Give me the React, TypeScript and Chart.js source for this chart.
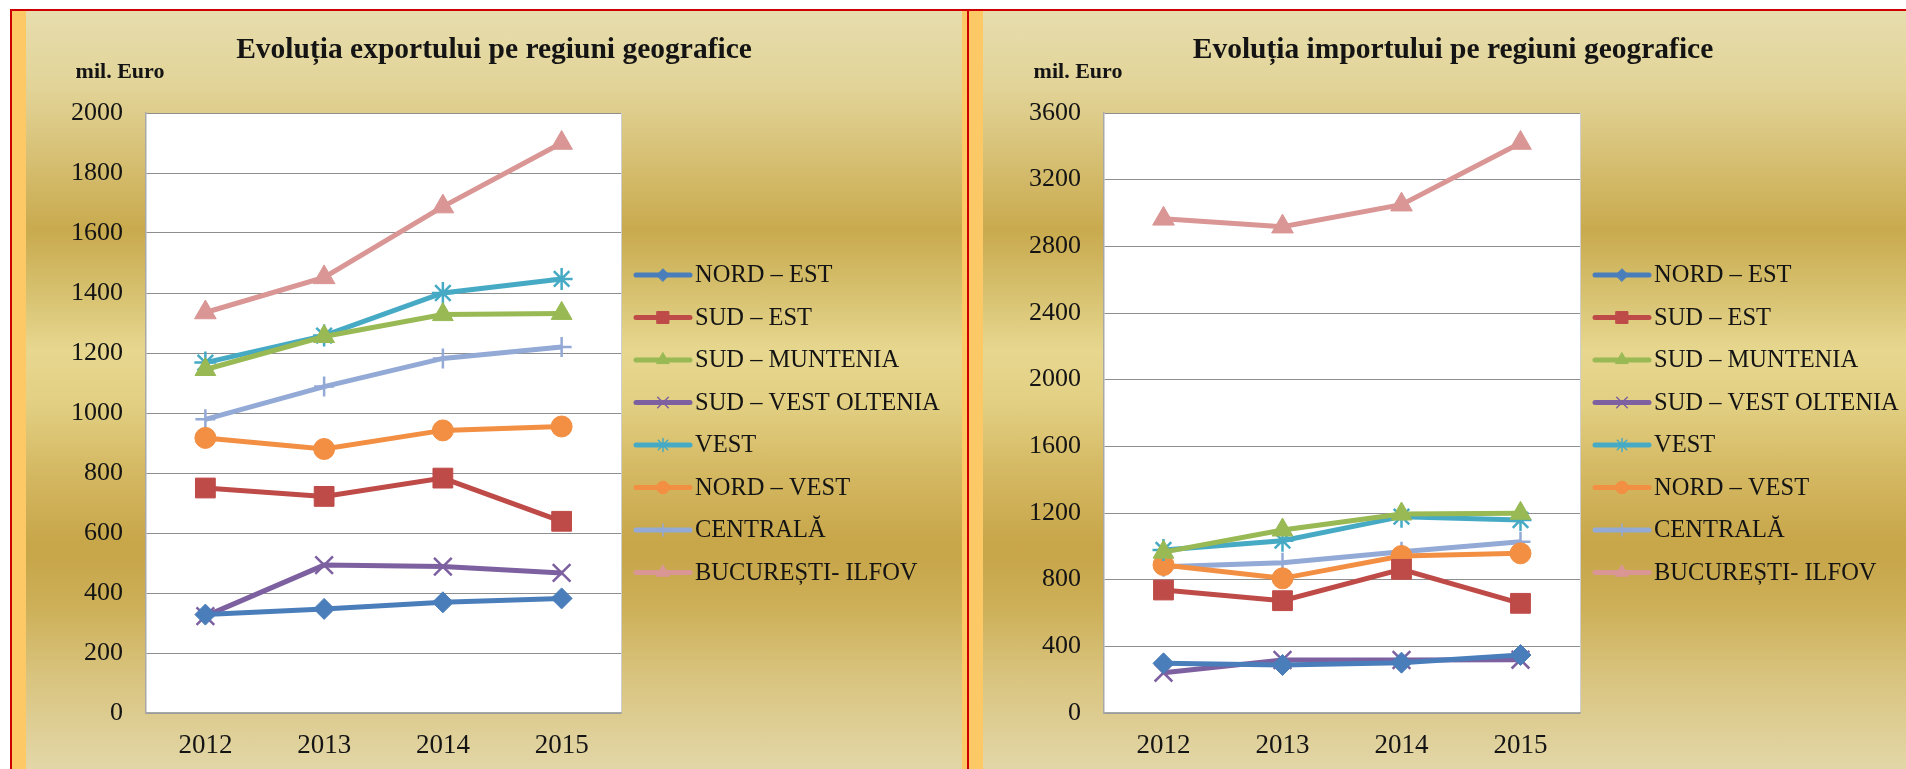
import React, { useEffect, useRef } from 'react';
import { Chart, registerables } from 'chart.js';
import { drawPoint } from 'chart.js/helpers';

Chart.register(...registerables);

// ---------- data ----------
const years = ['2012', '2013', '2014', '2015'];
const regions = [
  'NORD – EST',
  'SUD – EST',
  'SUD – MUNTENIA',
  'SUD – VEST OLTENIA',
  'VEST',
  'NORD – VEST',
  'CENTRALĂ',
  'BUCUREȘTI- ILFOV',
];

// export (mil. Euro)
const nordEstExp = [328, 347, 369, 382];
const sudEstExp = [750, 722, 783, 639];
const sudMunteniaExp = [1145, 1255, 1328, 1332];
const sudVestOlteniaExp = [323, 493, 488, 467];
const vestExp = [1168, 1258, 1400, 1447];
const nordVestExp = [917, 880, 942, 955];
const centralaExp = [979, 1088, 1182, 1220];
const bucurestiIlfovExp = [1335, 1452, 1688, 1900];

// import (mil. Euro)
const nordEstImp = [298, 288, 302, 348];
const sudEstImp = [738, 674, 862, 658];
const sudMunteniaImp = [965, 1098, 1194, 1198];
const sudVestOlteniaImp = [242, 318, 318, 320];
const vestImp = [978, 1034, 1178, 1158];
const nordVestImp = [888, 808, 942, 958];
const centralaImp = [878, 902, 968, 1028];
const bucurestiIlfovImp = [2965, 2918, 3050, 3420];

const exportTickValues = [0, 200, 400, 600, 800, 1000, 1200, 1400, 1600, 1800, 2000];
const importTickValues = [0, 400, 800, 1200, 1600, 2000, 2400, 2800, 3200, 3600];

const exportTitle = 'Evoluția exportului pe regiuni geografice';
const importTitle = 'Evoluția importului pe regiuni geografice';
const unitText = 'mil. Euro';

// ---------- styles ----------
const seriesColors = ['#4a7ebb', '#be4b48', '#98b954', '#7d60a0', '#46aac5', '#f28f43', '#93a9d6', '#d99694'];
const seriesMarkers = ['rectRot', 'rect', 'triangle', 'crossRot', 'star', 'circle', 'cross', 'triangle'];
const markerRadius = [10.5, 14, 12, 12.5, 11, 10.5, 10, 12.5];
const SERIF = '"Liberation Serif", "Times New Roman", serif';
const TEXT = '#141414';

const chartBgPlugin = {
  id: 'chartBg',
  beforeDraw(chart: any) {
    const { ctx, chartArea: a } = chart;
    ctx.save();
    ctx.fillStyle = '#ffffff';
    ctx.fillRect(a.left, a.top, a.right - a.left, a.bottom - a.top);
    ctx.strokeStyle = '#cfcfcf';
    ctx.lineWidth = 1;
    ctx.beginPath();
    ctx.moveTo(a.right + 0.5, a.top);
    ctx.lineTo(a.right + 0.5, a.bottom);
    ctx.stroke();
    ctx.restore();
  },
};

const sideLegendPlugin = {
  id: 'sideLegend',
  afterDraw(chart: any) {
    const { ctx, chartArea: a } = chart;
    ctx.save();
    chart.data.datasets.forEach((ds: any, i: number) => {
      const y = a.top + 162 + i * 42.5;
      const x0 = a.right + 15;
      const x1 = a.right + 69;
      ctx.strokeStyle = ds.borderColor;
      ctx.lineWidth = 5;
      ctx.lineCap = 'round';
      ctx.beginPath();
      ctx.moveTo(x0, y);
      ctx.lineTo(x1, y);
      ctx.stroke();
      ctx.fillStyle = ds.borderColor;
      ctx.strokeStyle = ds.borderColor;
      const cross = ['cross', 'crossRot', 'star'].includes(ds.pointStyle);
      ctx.lineWidth = cross ? 1.5 : 1;
      drawPoint(ctx, { pointStyle: ds.pointStyle, radius: ds.pointRadius * 0.6, borderWidth: ctx.lineWidth, rotation: 0 } as any, (x0 + x1) / 2, y);
      ctx.fillStyle = TEXT;
      ctx.font = `24.5px ${SERIF}`;
      ctx.textAlign = 'left';
      ctx.textBaseline = 'middle';
      ctx.fillText(ds.label, a.right + 74, y + 1);
    });
    ctx.restore();
  },
};

const headerPlugin = {
  id: 'header',
  afterDraw(chart: any) {
    const { ctx, chartArea: a, width } = chart;
    const title = chart.options.plugins.header.text;
    ctx.save();
    ctx.fillStyle = TEXT;
    ctx.textBaseline = 'alphabetic';
    ctx.textAlign = 'center';
    // title, centred on the panel
    ctx.font = `bold 29.5px ${SERIF}`;
    ctx.fillText(title, width / 2, 58);
    // unit label
    ctx.font = `bold 22px ${SERIF}`;
    ctx.fillText(unitText, a.left - 26, 77.5);
    ctx.restore();
  },
};

function buildDatasets(series: number[][]) {
  return series.map((values, i) => {
    const cross = ['cross', 'crossRot', 'star'].includes(seriesMarkers[i]);
    return {
      label: regions[i],
      data: values,
      borderColor: seriesColors[i],
      backgroundColor: seriesColors[i],
      pointBackgroundColor: seriesColors[i],
      pointBorderColor: seriesColors[i],
      pointStyle: seriesMarkers[i],
      pointRadius: markerRadius[i],
      pointBorderWidth: cross ? 2.5 : 1,
      borderWidth: 5,
      tension: 0,
      clip: false as any,
    };
  });
}

type PanelProps = {
  title: string;
  series: number[][];
  ticks: number[];
  width: number;
  axisWidth: number;
  rightPad: number;
};

function Panel({ title, series, ticks, width, axisWidth, rightPad }: PanelProps) {
  const ref = useRef<HTMLCanvasElement | null>(null);
  useEffect(() => {
    if (!ref.current) return;
    const chart = new Chart(ref.current, {
      type: 'line',
      data: { labels: years, datasets: buildDatasets(series) as any },
      plugins: [chartBgPlugin, sideLegendPlugin, headerPlugin],
      options: {
        responsive: false,
        animation: false,
        devicePixelRatio: 1,
        layout: { padding: { left: 0, right: rightPad, top: 113, bottom: 0 } },
        plugins: {
          legend: { display: false },
          tooltip: { enabled: false },
          title: { display: false },
          header: { text: title },
        } as any,
        scales: {
          x: {
            offset: true,
            grid: { display: false, drawTicks: false },
            border: { display: true, color: '#a8a8a8', width: 1.5 },
            ticks: { color: TEXT, font: { family: SERIF, size: 27 }, padding: 17, maxRotation: 0 },
            afterFit: (s: any) => {
              s.height = 56;
            },
          },
          y: {
            min: ticks[0],
            max: ticks[ticks.length - 1],
            grid: { color: '#8e8e8e', lineWidth: 1, drawTicks: false },
            border: { display: true, color: '#a8a8a8', width: 1.5 },
            ticks: {
              stepSize: ticks[1] - ticks[0],
              color: TEXT,
              font: { family: SERIF, size: 26 },
              padding: 23,
              callback: (v: any) => String(v),
            },
            afterFit: (s: any) => {
              s.width = axisWidth;
            },
          },
        },
      },
    });
    return () => chart.destroy();
  }, []);
  return <canvas ref={ref} width={width} height={769} style={{ width, height: 769, display: 'block' }} />;
}

export default function App() {
  const bg =
    'linear-gradient(to bottom, #e7ddae 0%, #e2d498 10%, #d6bf72 20%, #c9aa4e 29%, #d6c06e 37%, #e7d78f 45%, #e2cf82 52%, #d4b862 61%, #c7a548 71%, #cdb059 79%, #d9c47f 88%, #e3d7a8 100%)';
  return (
    <div style={{ position: 'fixed', left: 0, top: 0, width: 1906, height: 769, overflow: 'hidden', background: '#ffffff' }}>
      <div style={{ position: 'absolute', left: 10, top: 9, width: 1896, height: 760, background: bg }} />
      {/* red frame lines */}
      <div style={{ position: 'absolute', left: 10, top: 9, width: 1896, height: 2, background: '#cc0000' }} />
      <div style={{ position: 'absolute', left: 10, top: 9, width: 2, height: 760, background: '#cc0000' }} />
      {/* orange strips */}
      <div style={{ position: 'absolute', left: 12, top: 11, width: 14, height: 758, background: '#fdc866' }} />
      <div style={{ position: 'absolute', left: 962, top: 11, width: 21, height: 758, background: '#fdc866' }} />
      <div style={{ position: 'absolute', left: 967, top: 9, width: 2, height: 760, background: '#cc0000' }} />
      <div style={{ position: 'absolute', left: 26, top: 0 }}>
        <Panel
          title={exportTitle}
          series={[nordEstExp, sudEstExp, sudMunteniaExp, sudVestOlteniaExp, vestExp, nordVestExp, centralaExp, bucurestiIlfovExp]}
          ticks={exportTickValues}
          width={936}
          axisWidth={120}
          rightPad={341}
        />
      </div>
      <div style={{ position: 'absolute', left: 983, top: 0 }}>
        <Panel
          title={importTitle}
          series={[nordEstImp, sudEstImp, sudMunteniaImp, sudVestOlteniaImp, vestImp, nordVestImp, centralaImp, bucurestiIlfovImp]}
          ticks={importTickValues}
          width={940}
          axisWidth={121}
          rightPad={343}
        />
      </div>
    </div>
  );
}
